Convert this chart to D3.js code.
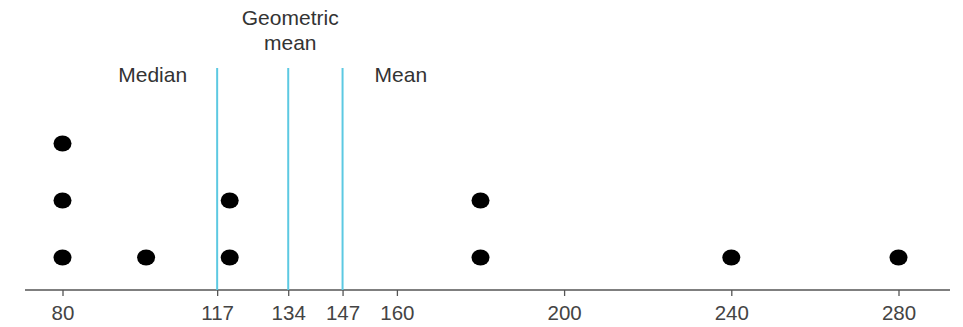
<!DOCTYPE html>
<html><head><meta charset="utf-8">
<script src="https://cdn.jsdelivr.net/npm/d3@7"></script>
<style>html,body{margin:0;padding:0;background:#fff;}svg{display:block;}</style>
</head><body>
<svg id="c" width="963" height="327"></svg>
<script>
const dotValues = [80, 80, 80, 100, 120, 120, 180, 180, 240, 280];
const tickValues = [80, 117, 134, 147, 160, 200, 240, 280];
const markerValues = [117, 134, 147];
const markerNames = ["Median", "Geometric mean", "Mean"];

const svg = d3.select("#c");
const x = d3.scaleLinear().domain([80, 280]).range([62.5, 898.5]);
const axisY = 290;
const y = d3.scaleLinear().domain([0, 1]).range([257.5, 200.5]);
const font = "Liberation Sans, Arial, sans-serif";

// axis
const ax = svg.append("g").attr("transform", `translate(0,${axisY})`)
  .call(d3.axisBottom(x).tickValues(tickValues).tickFormat(d3.format("d")).tickSize(6).tickSizeOuter(0));
ax.select(".domain").remove();
ax.append("line").attr("x1", 25).attr("x2", 950).attr("y1", 0).attr("y2", 0)
  .attr("stroke", "#555").attr("stroke-width", 1.5);
ax.selectAll(".tick line").attr("stroke", "#555").attr("stroke-width", 1.3);
ax.selectAll(".tick text").attr("fill", "#444").attr("font-family", font)
  .attr("font-size", 20.5).attr("dy", "0.71em").attr("y", 15);

// marker lines
svg.selectAll(".mk").data(markerValues).join("line")
  .attr("x1", d => x(d)).attr("x2", d => x(d)).attr("y1", 68).attr("y2", axisY)
  .attr("stroke", "#5cc9e2").attr("stroke-width", 2);

// labels
const lab = svg.append("g").attr("font-family", font).attr("font-size", 21).attr("fill", "#333");
lab.append("text").attr("x", x(markerValues[0]) - 30).attr("y", 82).attr("text-anchor", "end").text(markerNames[0]);
const gm = markerNames[1].split(" ");
lab.append("text").attr("x", x(markerValues[1]) + 2).attr("y", 25).attr("text-anchor", "middle").text(gm[0]);
lab.append("text").attr("x", x(markerValues[1]) + 2).attr("y", 50).attr("text-anchor", "middle").text(gm[1]);
lab.append("text").attr("x", x(markerValues[2]) + 32).attr("y", 82).attr("text-anchor", "start").text(markerNames[2]);

// stacked dots
const counts = {};
const pts = dotValues.map(v => { const k = counts[v] || 0; counts[v] = k + 1; return {v, k}; });
svg.selectAll(".dot").data(pts).join("ellipse")
  .attr("cx", d => x(d.v)).attr("cy", d => y(d.k)).attr("rx", 9).attr("ry", 8).attr("fill", "#000");
</script>
</body></html>
